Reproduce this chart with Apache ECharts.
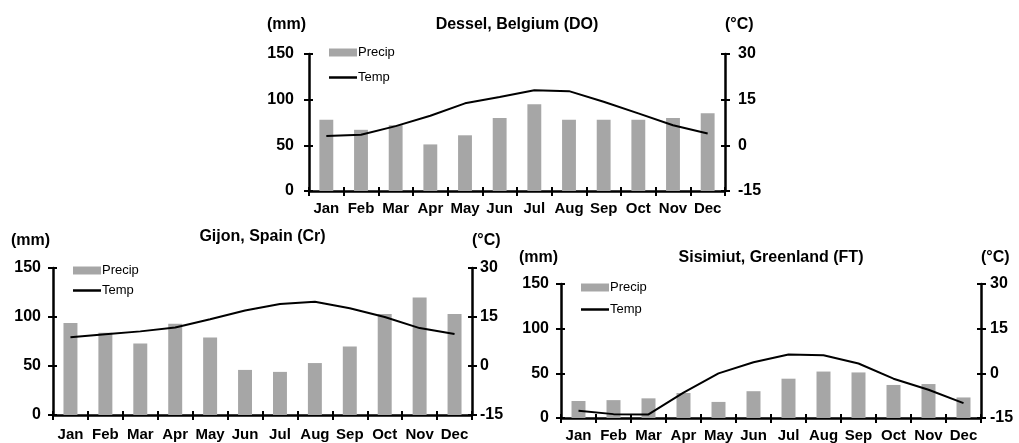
<!DOCTYPE html>
<html><head><meta charset="utf-8">
<script src="https://cdn.jsdelivr.net/npm/echarts@6/dist/echarts.min.js"></script>
<style>html,body{margin:0;padding:0;background:#fff}#c{width:1019px;height:443px}</style>
</head><body><div id="c"></div>
<script>
const months = ['Jan','Feb','Mar','Apr','May','Jun','Jul','Aug','Sep','Oct','Nov','Dec'];
const desselPrecip = [78,67,72,51,61,80,95,78,78,78,80,85];
const desselTemp = [3.1,3.5,6.3,9.7,13.8,15.9,18.1,17.8,14.3,10.5,6.6,3.9];
const gijonPrecip = [94,84,73,93,79,46,44,53,70,103,120,103];
const gijonTemp = [8.8,9.7,10.6,11.8,14.3,17.0,19.0,19.7,17.7,15.0,11.6,9.8];
const sisPrecip = [19,20,22,28,18,30,44,52,51,37,38,23];
const sisTemp = [-12.6,-13.7,-13.8,-6.5,0,3.7,6.3,6.1,3.3,-1.8,-5.5,-10.0];
const titles = ['Dessel, Belgium (DO)','Gijon, Spain (Cr)','Sisimiut, Greenland (FT)'];
const mmTicks = {min:0,max:150,interval:50};
const cTicks = {min:-15,max:30,interval:15};

const FONT = 'Liberation Sans, Arial, sans-serif';
const grids = [
  {left:309, top:54, width:416, height:137, titleY:25, unitY:25, precipY:53, tempY:78, lm:15, rm:13, xm:10},
  {left:53, top:268, width:419, height:147, titleY:237, unitY:241, precipY:271, tempY:291, lm:12, rm:8, xm:12},
  {left:561, top:284, width:420, height:137, titleY:258, unitY:258, precipY:288, tempY:310, lm:12, rm:9, xm:10}
];
const datasets = [[desselPrecip,desselTemp],[gijonPrecip,gijonTemp],[sisPrecip,sisTemp]];

const option = {grid:[],xAxis:[],yAxis:[],series:[],legend:[],graphic:[],animation:false};
const axisLine = {show:true, onZero:false, lineStyle:{color:'#000', width:2.5}};
const tickOut = {show:true, length:5, lineStyle:{color:'#000',width:2}};
const tickIn = {show:true, inside:true, length:4, lineStyle:{color:'#000',width:2}};
const yLbl = (m)=>({color:'#000', fontWeight:'bold', fontSize:16, fontFamily:FONT, margin:m});
grids.forEach((g,i)=>{
  option.grid.push({left:g.left, top:g.top, width:g.width, height:g.height, containLabel:false});
  option.xAxis.push({type:'category', gridIndex:i, data:months, boundaryGap:true,
    axisLine, axisTick:tickOut,
    axisLabel:{color:'#000', fontWeight:'bold', fontSize:15, fontFamily:FONT, margin:g.xm, interval:0},
    splitLine:{show:false}});
  option.xAxis.push({type:'category', gridIndex:i, data:months, boundaryGap:true, position:'bottom',
    axisLine:{show:false, onZero:false}, axisTick:tickIn, axisLabel:{show:false}, splitLine:{show:false}});
  option.yAxis.push(Object.assign({type:'value', gridIndex:i, position:'left',
    axisLine, axisTick:tickOut, axisLabel:yLbl(g.lm), splitLine:{show:false}}, mmTicks));
  option.yAxis.push(Object.assign({type:'value', gridIndex:i, position:'right',
    axisLine, axisTick:tickOut, axisLabel:yLbl(g.rm), splitLine:{show:false}}, cTicks));
  option.yAxis.push(Object.assign({type:'value', gridIndex:i, position:'left',
    axisLine:{show:false, onZero:false}, axisTick:tickIn, axisLabel:{show:false}, splitLine:{show:false}}, mmTicks));
  option.yAxis.push(Object.assign({type:'value', gridIndex:i, position:'right',
    axisLine:{show:false, onZero:false}, axisTick:tickIn, axisLabel:{show:false}, splitLine:{show:false}}, cTicks));
  option.series.push({name:'Precip', type:'bar', xAxisIndex:2*i, yAxisIndex:4*i, data:datasets[i][0],
    barWidth:'40%', itemStyle:{color:'#a6a6a6'}});
  option.series.push({name:'Temp', type:'line', xAxisIndex:2*i, yAxisIndex:4*i+1, data:datasets[i][1],
    symbol:'none', lineStyle:{color:'#000', width:2}, itemStyle:{color:'#000'}});
  const lt = {color:'#000', fontSize:13, fontFamily:FONT, padding:[0,0,0,-4]};
  option.legend.push({left:g.left+20, top:g.precipY-7, padding:0, itemWidth:28, itemHeight:8, selectedMode:false,
    textStyle:lt, data:[{name:'Precip', icon:'rect'}]});
  option.legend.push({left:g.left+20, top:g.tempY-7, padding:0, itemWidth:28, itemHeight:2.5, selectedMode:false,
    textStyle:lt, data:[{name:'Temp', icon:'rect'}]});
  option.graphic.push({type:'text', x:g.left + g.width/2, y:g.titleY, style:{text:titles[i], fill:'#000', font:'bold 16px '+FONT, align:'center', verticalAlign:'middle'}});
  option.graphic.push({type:'text', x:g.left - 42, y:g.unitY, style:{text:'(mm)', fill:'#000', font:'bold 16px '+FONT, verticalAlign:'middle'}});
  option.graphic.push({type:'text', x:g.left + g.width, y:g.unitY, style:{text:'(°C)', fill:'#000', font:'bold 16px '+FONT, verticalAlign:'middle'}});
});
const chart = echarts.init(document.getElementById('c'));
chart.setOption(option);
</script></body></html>
